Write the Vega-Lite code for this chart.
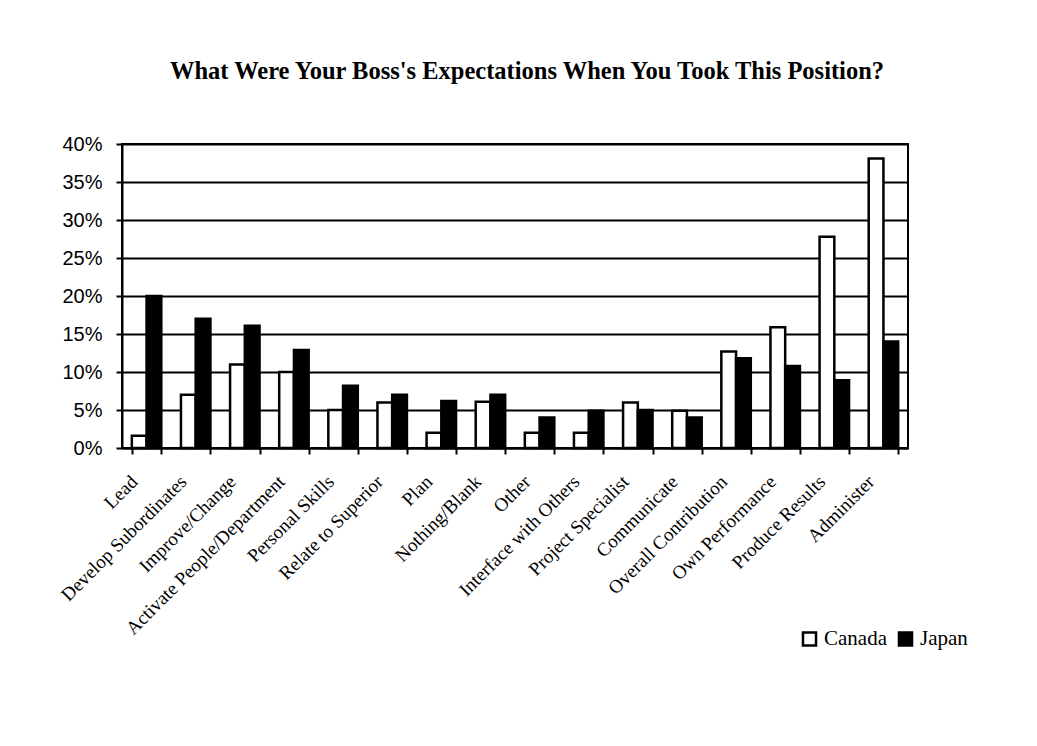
{
  "$schema": "https://vega.github.io/schema/vega-lite/v6.json",
  "autosize": {"type": "none"},
  "width": 786,
  "height": 304,
  "padding": {"left": 122, "top": 144, "right": 129, "bottom": 298},
  "background": "white",
  "title": {
    "text": "What Were Your Boss's Expectations When You Took This Position?",
    "font": "Liberation Serif",
    "fontSize": 24.5,
    "fontWeight": "bold",
    "color": "black",
    "anchor": "middle",
    "dx": 12,
    "offset": 50
  },
  "data": {
    "values": [
      {"category": "Lead", "country": "Canada", "value": 0.016},
      {"category": "Lead", "country": "Japan", "value": 0.20},
      {"category": "Develop Subordinates", "country": "Canada", "value": 0.07},
      {"category": "Develop Subordinates", "country": "Japan", "value": 0.17},
      {"category": "Improve/Change", "country": "Canada", "value": 0.11},
      {"category": "Improve/Change", "country": "Japan", "value": 0.161},
      {"category": "Activate People/Department", "country": "Canada", "value": 0.10},
      {"category": "Activate People/Department", "country": "Japan", "value": 0.129},
      {"category": "Personal Skills", "country": "Canada", "value": 0.05},
      {"category": "Personal Skills", "country": "Japan", "value": 0.082},
      {"category": "Relate to Superior", "country": "Canada", "value": 0.06},
      {"category": "Relate to Superior", "country": "Japan", "value": 0.07},
      {"category": "Plan", "country": "Canada", "value": 0.02},
      {"category": "Plan", "country": "Japan", "value": 0.062},
      {"category": "Nothing/Blank", "country": "Canada", "value": 0.061},
      {"category": "Nothing/Blank", "country": "Japan", "value": 0.07},
      {"category": "Other", "country": "Canada", "value": 0.02},
      {"category": "Other", "country": "Japan", "value": 0.04},
      {"category": "Interface with Others", "country": "Canada", "value": 0.02},
      {"category": "Interface with Others", "country": "Japan", "value": 0.049},
      {"category": "Project Specialist", "country": "Canada", "value": 0.06},
      {"category": "Project Specialist", "country": "Japan", "value": 0.05},
      {"category": "Communicate", "country": "Canada", "value": 0.049},
      {"category": "Communicate", "country": "Japan", "value": 0.04},
      {"category": "Overall Contribution", "country": "Canada", "value": 0.127},
      {"category": "Overall Contribution", "country": "Japan", "value": 0.118},
      {"category": "Own Performance", "country": "Canada", "value": 0.159},
      {"category": "Own Performance", "country": "Japan", "value": 0.108},
      {"category": "Produce Results", "country": "Canada", "value": 0.278},
      {"category": "Produce Results", "country": "Japan", "value": 0.089},
      {"category": "Administer", "country": "Canada", "value": 0.381},
      {"category": "Administer", "country": "Japan", "value": 0.14}
    ]
  },
  "mark": {"type": "bar", "stroke": "black", "strokeWidth": 2.5},
  "encoding": {
    "x": {
      "field": "category",
      "type": "nominal",
      "sort": null,
      "title": null,
      "scale": {"paddingInner": 0.4, "paddingOuter": 0.2},
      "axis": {
        "labelAngle": -45,
        "labelFont": "Liberation Serif",
        "labelFontSize": 19,
        "labelColor": "black",
        "labelPadding": 18,
        "labelOffset": -19,
        "tickBand": "extent",
        "tickColor": "black",
        "tickWidth": 2,
        "tickSize": 6,
        "domainColor": "black",
        "domainWidth": 2,
        "labelLimit": 400
      }
    },
    "xOffset": {"field": "country", "type": "nominal", "sort": ["Canada", "Japan"]},
    "y": {
      "field": "value",
      "type": "quantitative",
      "title": null,
      "scale": {"domain": [0, 0.4], "nice": false},
      "axis": {
        "format": ".0%",
        "values": [0, 0.05, 0.1, 0.15, 0.2, 0.25, 0.3, 0.35, 0.4],
        "labelFont": "Liberation Sans",
        "labelFontSize": 20,
        "labelColor": "black",
        "labelPadding": 14,
        "tickColor": "black",
        "tickWidth": 2,
        "tickSize": 6,
        "domainColor": "black",
        "domainWidth": 2,
        "gridColor": "black",
        "gridWidth": 2,
        "gridOpacity": 1
      }
    },
    "fill": {
      "field": "country",
      "type": "nominal",
      "scale": {"domain": ["Canada", "Japan"], "range": ["white", "black"]},
      "legend": {
        "title": null,
        "orient": "none",
        "direction": "horizontal",
        "legendX": 677,
        "legendY": 484,
        "symbolType": "square",
        "symbolSize": 170,
        "symbolStrokeColor": "black",
        "symbolStrokeWidth": 2.5,
        "labelFont": "Liberation Serif",
        "labelFontSize": 21,
        "labelColor": "black",
        "columnPadding": 6,
        "labelOffset": 4
      }
    }
  },
  "config": {
    "view": {"stroke": "black", "strokeWidth": 2}
  }
}
